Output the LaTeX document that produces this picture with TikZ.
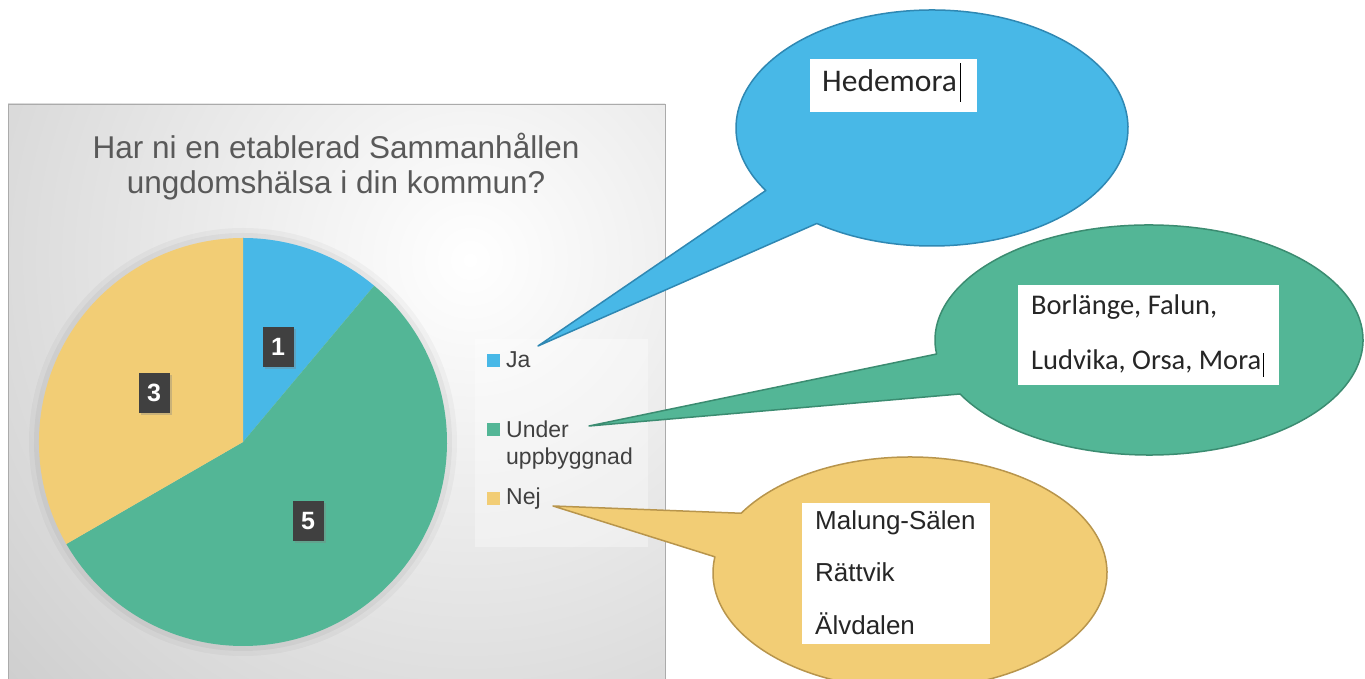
\documentclass[tikz,border=0pt]{standalone}
\usepackage{fontspec}
\setmainfont{Liberation Sans}
\newfontfamily\calfont{Carlito}
\usetikzlibrary{calc}
\usetikzlibrary{shadows}
\definecolor{jablue}{HTML}{48B8E7}
\definecolor{jaline}{HTML}{2F88B3}
\definecolor{undergreen}{HTML}{53B696}
\definecolor{greenline}{HTML}{3B8C71}
\definecolor{nejyellow}{HTML}{F2CD75}
\definecolor{yellowline}{HTML}{B8954C}
\definecolor{chartgray}{HTML}{C9C9C9}
\definecolor{labelbox}{HTML}{404040}
\definecolor{titlegray}{HTML}{595959}
\tikzstyle{numlabel}=[fill=labelbox, text=white, font=\fontsize{25}{25}\selectfont\bfseries, minimum width=31pt, minimum height=40pt, inner sep=0pt, drop shadow={shadow xshift=2pt, shadow yshift=-2pt, opacity=.35}]
\tikzstyle{legmark}=[minimum size=13pt, inner sep=0pt]
\tikzstyle{legtext}=[text=labelbox, font=\fontsize{23}{27}\selectfont, inner sep=0pt, align=left]
\tikzstyle{whitebox}=[fill=white, inner sep=0pt]
\tikzset{callout/.style={line width=1.5pt, line join=round}}
\tikzset{bubbletext/.style={text=black!85, inner sep=0pt, anchor=base west}}
\tikzset{calitext/.style={bubbletext, font=\calfont\fontsize{28.5}{28.5}\selectfont}}
\tikzset{ariatext/.style={bubbletext, font=\fontsize{26}{26}\selectfont}}

\begin{document}
\begin{tikzpicture}[x=1pt,y=1pt]
		\useasboundingbox (0,0) rectangle (1365,679);
		\fill[white] (0,0) rectangle (1365,679);
		\begin{scope}
			\clip (8,0) rectangle (665,575);
			\fill[chartgray] (8,0) rectangle (665,575);
			\shade[inner color=white, outer color=chartgray] (470,419) circle (700);
		\end{scope}
		\draw[chartgray!85!black, line width=0.8pt] (8,0) -- (8,575) -- (665,575) -- (665,0);
		\node[text=titlegray, font=\fontsize{31.5}{35}\selectfont, align=center, inner sep=0pt, anchor=north] (title) at (336,546) {Har ni en etablerad Sammanhållen\\ungdomshälsa i din kommun?};
		\coordinate (pie) at (243,237);
		\fill[black, opacity=.03] (pie) circle (214);
		\fill[black, opacity=.04] (pie) circle (209);
		\fill[jablue] (pie) -- ++(90:204) arc[start angle=90, end angle=50, radius=204] -- cycle;
		\fill[undergreen] (pie) -- ++(50:204) arc[start angle=50, end angle=-150, radius=204] -- cycle;
		\fill[nejyellow] (pie) -- ++(210:204) arc[start angle=210, end angle=90, radius=204] -- cycle;
		\node[numlabel] (num1) at (278,332) {1};
		\node[numlabel] (num3) at (154,286) {3};
		\node[numlabel] (num5) at (308,158) {5};
		\fill[white, opacity=.35] (475,132) rectangle (648,340);
		\node[legmark, fill=jablue] (markJa) at (493.5,318.5) {};
		\node[legtext, anchor=base west] (legJa) at (506,311) {Ja};
		\node[legmark, fill=undergreen] (markUnder) at (493.5,249.5) {};
		\node[legtext, anchor=north west] (legUnder) at (506,258.5) {Under\\uppbyggnad};
		\node[legmark, fill=nejyellow] (markNej) at (493.5,180.5) {};
		\node[legtext, anchor=base west] (legNej) at (506,174) {Nej};
		\coordinate (tipJa) at (538,333);
		\coordinate (tipUnder) at (589,253);
		\coordinate (tipNej) at (553,173);
		\coordinate (bubbleJa) at (932,551);
		\coordinate (bubbleUnder) at (1149,339);
		\coordinate (bubbleNej) at (910,106);
		\draw[callout, fill=jablue, draw=jaline] ($(bubbleJa)+(234:196 and 118)$) arc[start angle=234, end angle=572, x radius=196, y radius=118] -- (tipJa) -- cycle;
		\draw[callout, fill=undergreen, draw=greenline] ($(bubbleUnder)+(208:214 and 115)$) arc[start angle=208, end angle=547, x radius=214, y radius=115] -- (tipUnder) -- cycle;
		\draw[callout, fill=nejyellow, draw=yellowline] ($(bubbleNej)+(172:197 and 116)$) arc[start angle=172, end angle=509, x radius=197, y radius=116] -- (tipNej) -- cycle;
		\node[whitebox, minimum width=167pt, minimum height=53pt] (boxJa) at (893.5,593.5) {};
		\node[calitext, font=\calfont\fontsize{31.5}{31.5}\selectfont] (townJa) at (822,587) {Hedemora};
		\draw[line width=1.2pt] ($(townJa.base east)+(3,-10)$) -- ++(0,39);
		\node[whitebox, minimum width=261pt, minimum height=100pt] (boxUnder) at (1148.5,344) {};
		\node[calitext] (townUnderA) at (1031,364) {Borlänge, Falun,};
		\node[calitext] (townUnderB) at (1031,309) {Ludvika, Orsa, Mora};
		\draw[line width=1.2pt] ($(townUnderB.base east)+(2,-7)$) -- ++(0,24);
		\node[whitebox, minimum width=188pt, minimum height=141pt] (boxNej) at (896,105.5) {};
		\node[ariatext] (townNejA) at (815,149) {Malung-Sälen};
		\node[ariatext] (townNejB) at (815,97) {Rättvik};
		\node[ariatext] (townNejC) at (815,44) {Älvdalen};
\end{tikzpicture}
\end{document}
